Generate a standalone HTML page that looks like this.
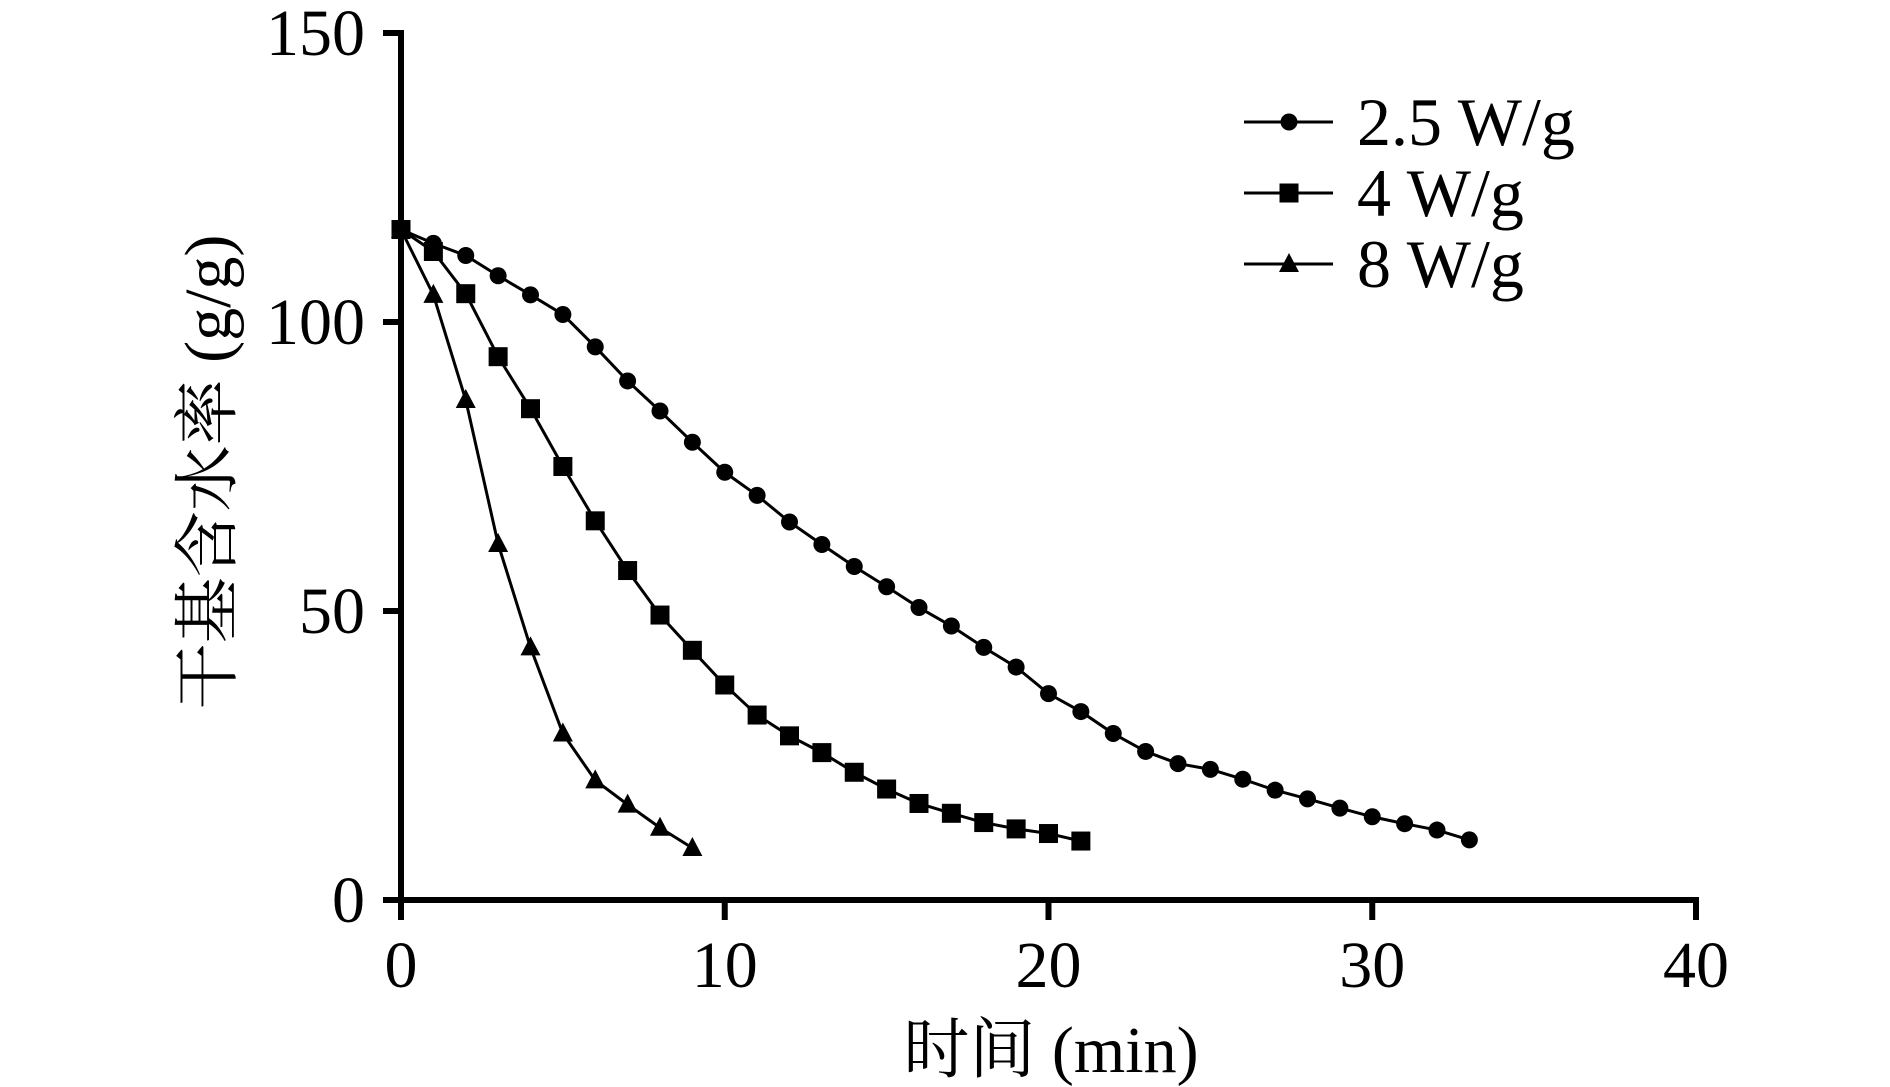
<!DOCTYPE html>
<html><head><meta charset="utf-8"><style>
html,body{margin:0;padding:0;background:#fff;}
svg{display:block;}
text{font-family:"Liberation Serif","Noto Serif CJK SC",serif;fill:#000;}
</style></head><body>
<svg id="chart" width="1890" height="1087"></svg>
<script>
const xTicks=[0,10,20,30,40];
const yTicks=[0,50,100,150];
const series25=[116,113.6,111.5,108,104.7,101.3,95.7,89.8,84.6,79.2,74,70,65.4,61.5,57.7,54.2,50.6,47.4,43.7,40.3,35.7,32.6,28.8,25.7,23.6,22.6,20.9,19,17.5,15.9,14.4,13.2,12.1,10.4];
const series4=[116,112.2,104.9,94,85,75,65.6,57,49.3,43.2,37.2,32,28.4,25.5,22.1,19.2,16.7,15,13.4,12.3,11.5,10.2];
const series8=[116,104.7,86.5,61.6,43.7,28.8,20.7,16.5,12.5,9];
const seriesNames=["2.5 W/g","4 W/g","8 W/g"];
const NS="http://www.w3.org/2000/svg";
const svg=document.getElementById('chart');
const X0=401,X1=1696,Y0=900,Y1=33;
function sx(v){return X0+(X1-X0)*v/40;}
function sy(v){return Y0-(Y0-Y1)*v/150;}
function mk(tag,attrs,parent){const e=document.createElementNS(NS,tag);for(const k in attrs)e.setAttribute(k,attrs[k]);(parent||svg).appendChild(e);return e;}
let ax=mk('line',{x1:X0,y1:Y1-3,x2:X0,y2:Y0+3,stroke:'#000','stroke-width':6});


ax=mk('line',{x1:X0-3,y1:Y0,x2:X1+3,y2:Y0,stroke:'#000','stroke-width':6});


yTicks.forEach(v=>{
 const t=mk('line',{x1:X0-18,y1:sy(v),x2:X0,y2:sy(v),stroke:'#000','stroke-width':6});
 
 
 const l=mk('text',{x:X0-36,y:sy(v)+22,'font-size':66,'text-anchor':'end'});
 l.textContent=v;
 
 
});
xTicks.forEach(v=>{
 const t=mk('line',{x1:sx(v),y1:Y0,x2:sx(v),y2:Y0+20,stroke:'#000','stroke-width':6});
 
 
 const l=mk('text',{x:sx(v),y:987,'font-size':66,'text-anchor':'middle'});
 l.textContent=v;
 
 
});
let xl=mk('text',{x:1051,y:1072,'font-size':66,'text-anchor':'middle'});
xl.textContent='时间 (min)';


let yl=mk('text',{x:0,y:0,'font-size':66,'text-anchor':'middle',transform:'translate(230,472) rotate(-90)'});
yl.textContent='干基含水率 (g/g)';


function marker(type,x,y,g){
 let m;
 if(type===0)m=mk('circle',{cx:x,cy:y,r:8.5,fill:'#000'},g);
 else if(type===1)m=mk('rect',{x:x-9.5,y:y-9.5,width:19,height:19,fill:'#000'},g);
 else m=mk('polygon',{points:`${x},${y-11} ${x-10},${y+8} ${x+10},${y+8}`,fill:'#000'},g);
 return m;
}
const all=[series25,series4,series8];
const names=['series-2-5-wg','series-4-wg','series-8-wg'];
all.forEach((s,i)=>{
 const g=mk('g',{});
 
 
 const pts=s.map((v,t)=>sx(t)+','+sy(v)).join(' ');
 const pl=mk('polyline',{points:pts,fill:'none',stroke:'#000','stroke-width':3},g);
 
 
 s.forEach((v,t)=>{
  const m=marker(i,sx(t),sy(v),g);
  
  
 });
});
const lg=mk('g',{});


seriesNames.forEach((n,i)=>{
 const y=122+i*71;
 const e=mk('g',{},lg);
 
 
 mk('line',{x1:1244,y1:y,x2:1333,y2:y,stroke:'#000','stroke-width':3},e);
 marker(i,1289,y,e);
 const t=mk('text',{x:1357,y:y+23,'font-size':68},e);
 t.textContent=n;
});
</script>
</body></html>
